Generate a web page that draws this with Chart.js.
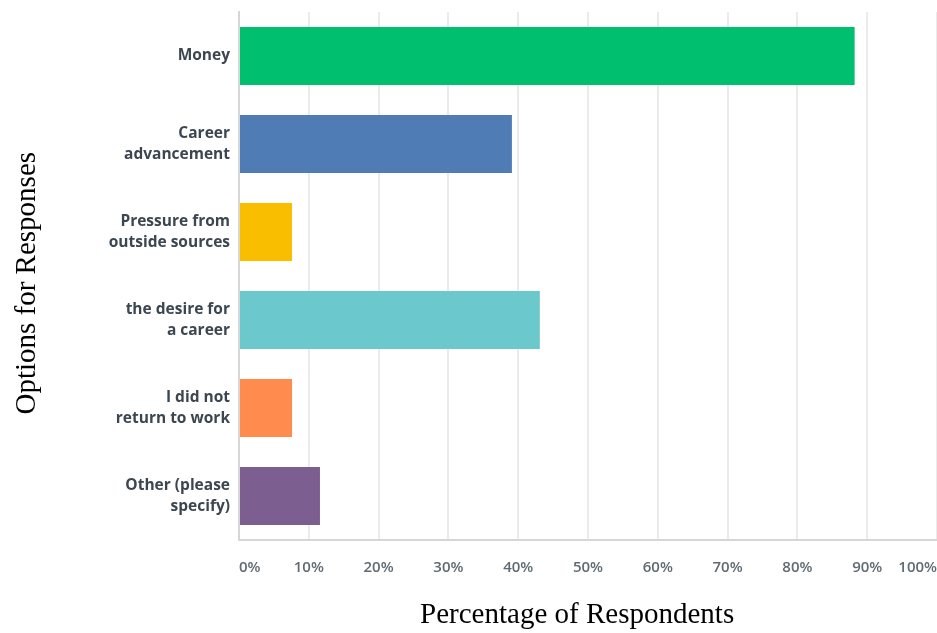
<!DOCTYPE html>
<html lang="en">
<head>
  <meta charset="UTF-8" />
  <title>Options for Responses</title>
  <script src="https://cdn.jsdelivr.net/npm/chart.js"></script>
  <style>
    html, body { margin: 0; padding: 0; background: #fff; }
    #wrap { width: 937px; height: 633px; }
  </style>
</head>
<body>
  <div id="wrap"><canvas id="chart" width="937" height="633"></canvas></div>
  <script>
    const categories = [
      'Money',
      ['Career', 'advancement'],
      ['Pressure from', 'outside sources'],
      ['the desire for', 'a career'],
      ['I did not', 'return to work'],
      ['Other (please', 'specify)']
    ];
    const percentages = [88.2, 39.1, 7.6, 43.1, 7.6, 11.6];
    const barColors = ['#00bf6f', '#507cb6', '#f9be00', '#6bc8cd', '#ff8b4f', '#7d5e90'];
    const xTicks = [0, 10, 20, 30, 40, 50, 60, 70, 80, 90, 100];

    // drop the automatic label padding so the plot area fills to the edges
    function noPad(scale) {
      scale.paddingTop = 0;
      scale.paddingBottom = 0;
      scale.paddingLeft = 0;
      scale.paddingRight = 0;
    }

    // trailing no-break spaces nudge the centred axis titles a little off centre
    const nbsp = n => '\u00a0'.repeat(n);

    new Chart(document.getElementById('chart'), {
      type: 'bar',
      data: {
        labels: categories,
        datasets: [{
          data: percentages,
          backgroundColor: barColors,
          borderWidth: 0,
          barPercentage: 0.66,
          categoryPercentage: 1
        }]
      },
      options: {
        indexAxis: 'y',
        responsive: false,
        animation: false,
        layout: { padding: { top: 12, right: 0, bottom: 0, left: 0 } },
        plugins: { legend: { display: false }, tooltip: { enabled: false } },
        scales: {
          x: {
            min: 0,
            max: 100,
            afterBuildTicks: scale => { scale.ticks = xTicks.map(v => ({ value: v })); },
            afterFit: scale => { scale.height = 93; noPad(scale); },
            grid: { color: '#ebebeb', lineWidth: 2, drawTicks: false },
            border: { color: '#d6d6d6', width: 2 },
            ticks: {
              align: 'inner',
              maxRotation: 0,
              padding: 19,
              color: '#5f6b73',
              font: { family: 'Open Sans', size: 15, weight: '600' },
              callback: v => v + '%'
            },
            title: {
              display: true,
              text: 'Percentage of Respondents' + nbsp(3),
              color: '#000',
              font: { family: 'Liberation Serif', size: 29, lineHeight: 1.2 },
              padding: { top: 0, bottom: 0 }
            }
          },
          y: {
            afterFit: scale => { scale.width = 239; noPad(scale); },
            grid: { display: false, drawTicks: false },
            border: { color: '#d6d6d6', width: 2 },
            ticks: {
              padding: 9,
              color: '#3b4650',
              font: { family: 'Open Sans', size: 15.5, weight: 'bold', lineHeight: 1.4 }
            },
            title: {
              display: true,
              text: 'Options for Responses' + nbsp(2),
              color: '#000',
              font: { family: 'Liberation Serif', size: 29, lineHeight: 1.2 },
              padding: { top: 10, bottom: 0 }
            }
          }
        }
      }
    });
  </script>
</body>
</html>
